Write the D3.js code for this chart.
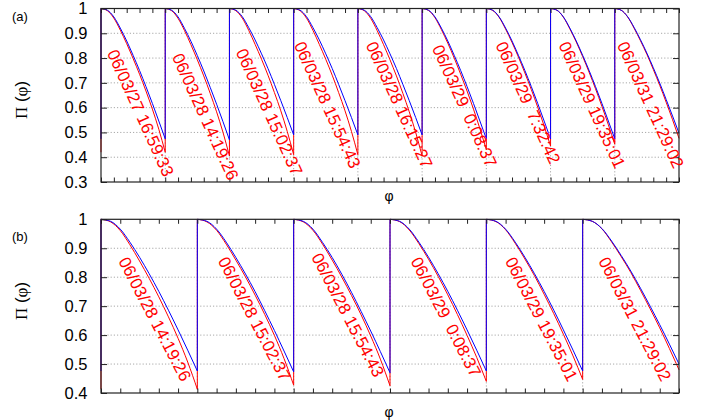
<!DOCTYPE html>
<html>
<head>
<meta charset="utf-8">
<script src="https://cdn.jsdelivr.net/npm/d3@7"></script>
<style>
  body { margin: 0; background: #fff; }
  text { font-family: "Liberation Sans", Arial, sans-serif; }
</style>
</head>
<body>
<svg id="chart" width="714" height="420"></svg>
<script>
// phase samples inside one segment
var fracs = [0, 0.1, 0.2, 0.3, 0.4, 0.5, 0.6, 0.7, 0.8, 0.9, 1.0];

// panel (a)
var datesA = ["06/03/27 16:59:33", "06/03/28 14:19:26", "06/03/28 15:02:37",
              "06/03/28 15:54:43", "06/03/28 16:15:27", "06/03/29  0:08:37",
              "06/03/29  7:32:42", "06/03/29 19:35:01", "06/03/31 21:29:02"];
var blueA = [
  [1, .993, .966, .921, .869, .811, .750, .685, .617, .546, .474],
  [1, .993, .966, .920, .868, .810, .748, .682, .614, .543, .470],
  [1, .993, .967, .923, .873, .817, .758, .694, .628, .560, .490],
  [1, .993, .967, .923, .873, .817, .758, .694, .628, .560, .490],
  [1, .993, .967, .923, .873, .817, .758, .694, .628, .560, .490],
  [1, .993, .966, .921, .869, .811, .750, .685, .617, .546, .474],
  [1, .993, .966, .921, .869, .811, .750, .685, .617, .546, .474],
  [1, .993, .966, .921, .869, .811, .750, .685, .617, .546, .474],
  [1, .993, .967, .924, .874, .820, .761, .699, .633, .566, .497]
];
var redA = [
  [1, .991, .961, .913, .858, .798, .735, .667, .594, .513, .420],
  [1, .991, .960, .911, .854, .793, .728, .658, .583, .500, .405],
  [1, .991, .961, .912, .855, .795, .731, .661, .587, .504, .410],
  [1, .991, .961, .912, .855, .795, .731, .661, .587, .504, .410],
  [1, .991, .960, .911, .854, .793, .728, .658, .583, .500, .405],
  [1, .992, .963, .915, .860, .800, .735, .667, .594, .515, .430],
  [1, .992, .964, .917, .863, .804, .740, .673, .602, .526, .445],
  [1, .993, .965, .918, .865, .806, .743, .676, .605, .531, .452],
  [1, .993, .966, .921, .870, .815, .754, .690, .622, .551, .476]
];
var yTicksA = [0.3, 0.4, 0.5, 0.6, 0.7, 0.8, 0.9, 1];

// panel (b)
var datesB = ["06/03/28 14:19:26", "06/03/28 15:02:37", "06/03/28 15:54:43",
              "06/03/29  0:08:37", "06/03/29 19:35:01", "06/03/31 21:29:02"];
var blueB = [
  [1, .993, .966, .921, .869, .812, .751, .686, .618, .548, .476],
  [1, .993, .966, .921, .868, .811, .750, .684, .616, .545, .473],
  [1, .993, .966, .920, .868, .810, .748, .682, .614, .543, .470],
  [1, .993, .966, .921, .869, .812, .751, .686, .618, .548, .476],
  [1, .993, .966, .921, .869, .812, .751, .686, .618, .548, .476],
  [1, .993, .968, .925, .875, .821, .762, .700, .636, .569, .500]
];
var redB = [
  [1, .991, .961, .912, .856, .796, .732, .663, .589, .507, .413],
  [1, .991, .962, .914, .859, .801, .738, .671, .599, .519, .427],
  [1, .991, .962, .914, .859, .800, .737, .670, .597, .517, .425],
  [1, .992, .963, .916, .862, .803, .739, .671, .599, .523, .440],
  [1, .992, .964, .917, .863, .805, .741, .674, .603, .528, .447],
  [1, .993, .967, .922, .871, .816, .755, .691, .625, .554, .480]
];
var yTicksB = [0.4, 0.5, 0.6, 0.7, 0.8, 0.9, 1];

// where each date label starts: offset inside its segment, and Pi level
var labelPosA = [[0.09, 0.82], [0.10, 0.805], [0.095, 0.824], [0.0, 0.853], [0.12, 0.853],
                 [0.15, 0.84], [0.14, 0.853], [0.12, 0.853], [0.03, 0.853]];
var labelPosB = [[0.177, 0.856], [0.21, 0.857], [0.18, 0.87], [0.21, 0.856], [0.19, 0.856], [0.16, 0.856]];

var svg = d3.select("#chart");

function panel(opt) {
  var n = opt.dates.length;
  var x = d3.scaleLinear().domain([0, n]).range([101, 679]),
      y = d3.scaleLinear().domain(opt.yDomain).range([opt.bottom, opt.top]);
  var g = svg.append("g");

  // dotted grid
  g.selectAll(".gy").data(opt.yTicks.slice(1, -1)).enter().append("line")
      .attr("x1", x(0)).attr("x2", x(n))
      .attr("y1", function(d) { return y(d); }).attr("y2", function(d) { return y(d); })
      .attr("stroke", "#a8a8a8").attr("stroke-dasharray", "1.2,2");
  g.selectAll(".gx").data(d3.range(1, n)).enter().append("line")
      .attr("x1", function(d) { return x(d); }).attr("x2", function(d) { return x(d); })
      .attr("y1", y.range()[0]).attr("y2", y.range()[1])
      .attr("stroke", "#a8a8a8").attr("stroke-dasharray", "1.2,2");

  var line = d3.line()
      .x(function(d) { return x(d[0]); })
      .y(function(d) { return y(d[1]); })
      .curve(d3.curveMonotoneX);

  function curves(series, color) {
    series.forEach(function(vals, k) {
      var prevEnd = k === 0 ? vals[vals.length - 1] : series[k - 1][series[k - 1].length - 1];
      var pts = fracs.map(function(f, i) { return [k + f, vals[i]]; });
      var d = "M" + x(k) + "," + y(prevEnd) + "L" + line(pts).slice(1);
      g.append("path")
          .attr("d", d)
          .attr("fill", "none")
          .attr("stroke", color)
          .attr("stroke-width", 1);
    });
  }
  curves(opt.red, "#ff0000");
  curves(opt.blue, "#0000ff");

  // axes with inward ticks, no labels on x
  var xt = d3.range(0, n * 5 + 1).map(function(i) { return i / 5; });
  g.append("g").attr("transform", "translate(0," + opt.bottom + ")")
      .call(d3.axisBottom(x).tickValues(xt).tickSize(-4.5).tickFormat(""));
  g.append("g").attr("transform", "translate(0," + opt.top + ")")
      .call(d3.axisTop(x).tickValues(xt).tickSize(-4.5).tickFormat(""));
  g.append("g").attr("transform", "translate(101,0)")
      .call(d3.axisLeft(y).tickValues(opt.yTicks).tickSize(-6).tickPadding(13.5)
        .tickFormat(function(d) { return d === 1 ? "1" : d3.format(".1f")(d); }));
  g.append("g").attr("transform", "translate(679,0)")
      .call(d3.axisRight(y).tickValues(opt.yTicks).tickSize(-6).tickFormat(""));
  g.selectAll(".domain").remove();
  g.selectAll(".tick line").attr("stroke", "#222");
  g.selectAll(".tick text")
      .attr("font-family", "Liberation Sans, Arial, sans-serif")
      .attr("font-size", 16.5).attr("fill", "#000");

  g.append("rect")
      .attr("x", 101).attr("y", opt.top)
      .attr("width", 578).attr("height", opt.bottom - opt.top)
      .attr("fill", "none").attr("stroke", "#222").attr("stroke-width", 1.2);

  // date labels
  opt.dates.forEach(function(s, k) {
    var ax = x(k + opt.labelPos[k][0]), ay = y(opt.labelPos[k][1]);
    g.append("text")
        .attr("x", ax).attr("y", ay)
        .attr("transform", "rotate(" + opt.angle + "," + ax + "," + ay + ")")
        .attr("fill", "#ff0000")
        .attr("font-size", 17)
        .style("white-space", "pre")
        .text(s);
  });

  // panel tag, axis titles
  svg.append("text").attr("x", 12).attr("y", opt.tagY)
      .attr("font-size", 13).text(opt.tag);

  var yl = svg.append("text")
      .attr("transform", "translate(27," + opt.ylabelY + ") rotate(-90)")
      .attr("text-anchor", "middle").attr("font-size", 17);
  yl.append("tspan").attr("font-family", "Liberation Serif, serif").text("\u03A0");
  yl.append("tspan").style("white-space", "pre").text(" (");
  yl.append("tspan").attr("font-family", "Liberation Serif, serif").text("\u03C6");
  yl.append("tspan").text(")");

  svg.append("text").attr("x", 389).attr("y", opt.xlabelY)
      .attr("text-anchor", "middle")
      .attr("font-family", "Liberation Serif, serif")
      .attr("font-size", 14).text("\u03C6");
}

panel({dates: datesA, blue: blueA, red: redA, yTicks: yTicksA, yDomain: [0.3, 1],
       top: 8.5, bottom: 182, labelPos: labelPosA, angle: 65.5,
       tag: "(a)", tagY: 21, ylabelY: 100, xlabelY: 201});
panel({dates: datesB, blue: blueB, red: redB, yTicks: yTicksB, yDomain: [0.4, 1],
       top: 219.3, bottom: 393, labelPos: labelPosB, angle: 62.5,
       tag: "(b)", tagY: 241, ylabelY: 301, xlabelY: 416.5});
</script>
</body>
</html>
